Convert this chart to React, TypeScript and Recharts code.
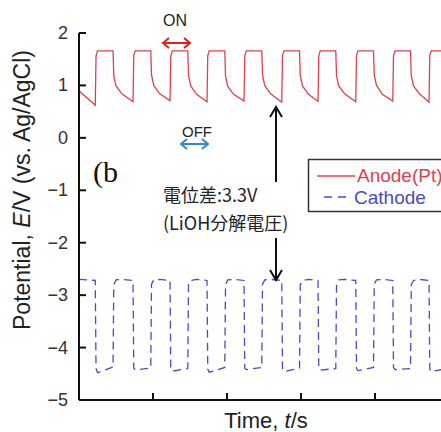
import { LineChart, Line, XAxis, YAxis } from 'recharts';

// time (s) – ten ON/OFF cycles
const times = [
  0,
  22, 23, 25, 46, 47, 50, 58,
  73, 74, 76, 97, 98, 101, 109,
  123, 124, 126, 147, 148, 151, 159,
  173, 174, 176, 197, 198, 201, 209,
  223, 224, 226, 247, 248, 251, 259,
  274, 275, 277, 298, 299, 302, 310,
  323, 324, 326, 347, 348, 351, 359,
  374, 375, 377, 398, 399, 402, 410,
  424, 425, 427, 448, 449, 452, 460,
  473, 474, 476, 497, 498, 500,
];

// anode (Pt) potential, V
const anode = [
  0.9,
  0.62, 1.56, 1.66, 1.66, 1.18, 0.99, 0.84,
  0.69, 1.57, 1.66, 1.66, 1.2, 1.0, 0.84,
  0.71, 1.56, 1.66, 1.66, 1.19, 0.99, 0.83,
  0.69, 1.57, 1.66, 1.66, 1.18, 0.98, 0.83,
  0.7, 1.56, 1.66, 1.66, 1.2, 1.0, 0.84,
  0.68, 1.57, 1.66, 1.66, 1.19, 0.99, 0.83,
  0.7, 1.56, 1.66, 1.66, 1.18, 0.99, 0.84,
  0.69, 1.57, 1.66, 1.66, 1.2, 1.0, 0.83,
  0.7, 1.56, 1.66, 1.66, 1.19, 0.99, 0.84,
  0.68, 1.57, 1.66, 1.66, 1.19, 1.05,
];

// cathode potential, V
const cathode = [
  -2.7,
  -2.72, -4.4, -4.48, -4.37, -2.8, -2.71, -2.7,
  -2.72, -4.39, -4.43, -4.39, -2.79, -2.71, -2.7,
  -2.72, -4.4, -4.45, -4.4, -2.8, -2.72, -2.7,
  -2.72, -4.41, -4.47, -4.38, -2.8, -2.71, -2.7,
  -2.72, -4.39, -4.42, -4.38, -2.79, -2.71, -2.7,
  -2.72, -4.4, -4.46, -4.39, -2.8, -2.72, -2.7,
  -2.72, -4.39, -4.43, -4.4, -2.8, -2.71, -2.7,
  -2.72, -4.4, -4.44, -4.38, -2.79, -2.71, -2.7,
  -2.72, -4.38, -4.42, -4.4, -2.8, -2.72, -2.7,
  -2.72, -4.41, -4.46, -4.4, -2.8, -2.72,
];

const yTicks = [-5, -4, -3, -2, -1, 0, 1, 2];
const xTicks = [100, 200, 300, 400];

const data = times.map((t, i) => ({ t, anode: anode[i], cathode: cathode[i] }));

const AXIS = '#111';
const RED = '#e0404e';
const BLUE = '#4a4ac0';

const YTick = (props: any) => {
  const { x, y, payload } = props;
  const v = payload.value;
  const label = v < 0 ? `\u2212${Math.abs(v)}` : `${v}`;
  return (
    <g>
      <text x={x} y={y} textAnchor="end" dominantBaseline="central" fontSize={18} fill="#333">
        {label}
      </text>
      <line x1={x + 11} x2={x + 18} y1={y} y2={y} stroke={AXIS} strokeWidth={2} />
    </g>
  );
};

const BottomTick = (props: any) => (
  <line x1={props.x} x2={props.x} y1={props.y} y2={props.y - 7} stroke={AXIS} strokeWidth={2} />
);

const TopTick = (props: any) => (
  <line x1={props.x} x2={props.x} y1={props.y} y2={props.y + 7} stroke={AXIS} strokeWidth={2} />
);

const App = () => {
  return (
    <div
      style={{
        position: 'absolute',
        left: 0,
        top: 0,
        width: 441,
        height: 432,
        overflow: 'hidden',
        background: '#fff',
        fontFamily: '"Liberation Sans", Arial, sans-serif',
      }}
    >
      <LineChart width={449} height={432} data={data} margin={{ top: 33, right: 0, bottom: 0, left: 0 }}>
        <XAxis
          dataKey="t"
          type="number"
          domain={[0, 500]}
          ticks={xTicks}
          height={32}
          axisLine={{ stroke: AXIS, strokeWidth: 2 }}
          tickLine={false}
          tickSize={0}
          tickMargin={0}
          tick={<BottomTick />}
        />
        <XAxis
          xAxisId="top"
          orientation="top"
          dataKey="t"
          type="number"
          domain={[0, 500]}
          ticks={xTicks}
          height={0}
          axisLine={{ stroke: AXIS, strokeWidth: 2 }}
          tickLine={false}
          tickSize={0}
          tickMargin={0}
          tick={<TopTick />}
        />
        <YAxis
          type="number"
          domain={[-5, 2]}
          ticks={yTicks}
          interval={0}
          width={79}
          axisLine={{ stroke: AXIS, strokeWidth: 2 }}
          tickLine={false}
          tickSize={0}
          tickMargin={11}
          tick={<YTick />}
        />
        <Line
          type="linear"
          dataKey="anode"
          stroke={RED}
          strokeWidth={1.3}
          dot={false}
          isAnimationActive={false}
        />
        <Line
          type="linear"
          dataKey="cathode"
          stroke={BLUE}
          strokeWidth={1.3}
          strokeDasharray="8 5"
          dot={false}
          isAnimationActive={false}
        />
      </LineChart>

      {/* labels, annotations and legend */}
      <svg
        width={441}
        height={432}
        style={{ position: 'absolute', left: 0, top: 0, pointerEvents: 'none' }}
      >
        <text
          transform="translate(30,190) rotate(-90)"
          textAnchor="middle"
          fontSize={23}
          fill="#222"
        >
          Potential, <tspan fontStyle="italic">E</tspan>/V (vs. Ag/AgCl)
        </text>
        <text x={266} y={428} textAnchor="middle" fontSize={22} fill="#222">
          Time, <tspan fontStyle="italic">t</tspan>/s
        </text>

        {/* ON / OFF */}
        <text x={175} y={26} textAnchor="middle" fontSize={16} fill="#222">ON</text>
        <g stroke="#e02020" strokeWidth={2} fill="none">
          <line x1={163} x2={190} y1={43} y2={43} />
          <path d="M169 38 L163 43 L169 48 M184 38 L190 43 L184 48" />
        </g>
        <text x={197} y={137} textAnchor="middle" fontSize={15} fill="#222">OFF</text>
        <g stroke="#3088d0" strokeWidth={2} fill="none">
          <line x1={181} x2={208} y1={144} y2={144} />
          <path d="M187 139 L181 144 L187 149 M202 139 L208 144 L202 149" />
        </g>

        <text x={93} y={182} fontSize={30} fontFamily='"Liberation Serif", "Times New Roman", serif' fill="#111">
          (b
        </text>

        {/* potential difference arrow */}
        <g stroke="#111" strokeWidth={2} fill="none">
          <line x1={276} x2={276} y1={182} y2={108} />
          <path d="M270 117 L276 107 L282 117" />
          <line x1={276} x2={276} y1={238} y2={279} />
          <path d="M270 270 L276 280 L282 270" />
        </g>
        <g fontFamily='"Noto Sans CJK JP", "Noto Sans", sans-serif' fontSize={18} fill="#222">
          <text x={163} y={202}>電位差:3.3V</text>
          <text x={163} y={230}>(LiOH分解電圧)</text>
        </g>

        {/* legend */}
        <rect x={308.5} y={159.5} width={200} height={52} fill="#fff" stroke="#333" strokeWidth={1.5} />
        <line x1={317} x2={355} y1={176} y2={176} stroke={RED} strokeWidth={1.3} />
        <text x={357} y={182} fontSize={19} fill={RED}>Anode(Pt)</text>
        <line x1={324} x2={352} y1={197} y2={197} stroke={BLUE} strokeWidth={1.3} strokeDasharray="8 6" />
        <text x={354} y={204} fontSize={19} fill={BLUE}>Cathode</text>
      </svg>
    </div>
  );
};

export default App;
